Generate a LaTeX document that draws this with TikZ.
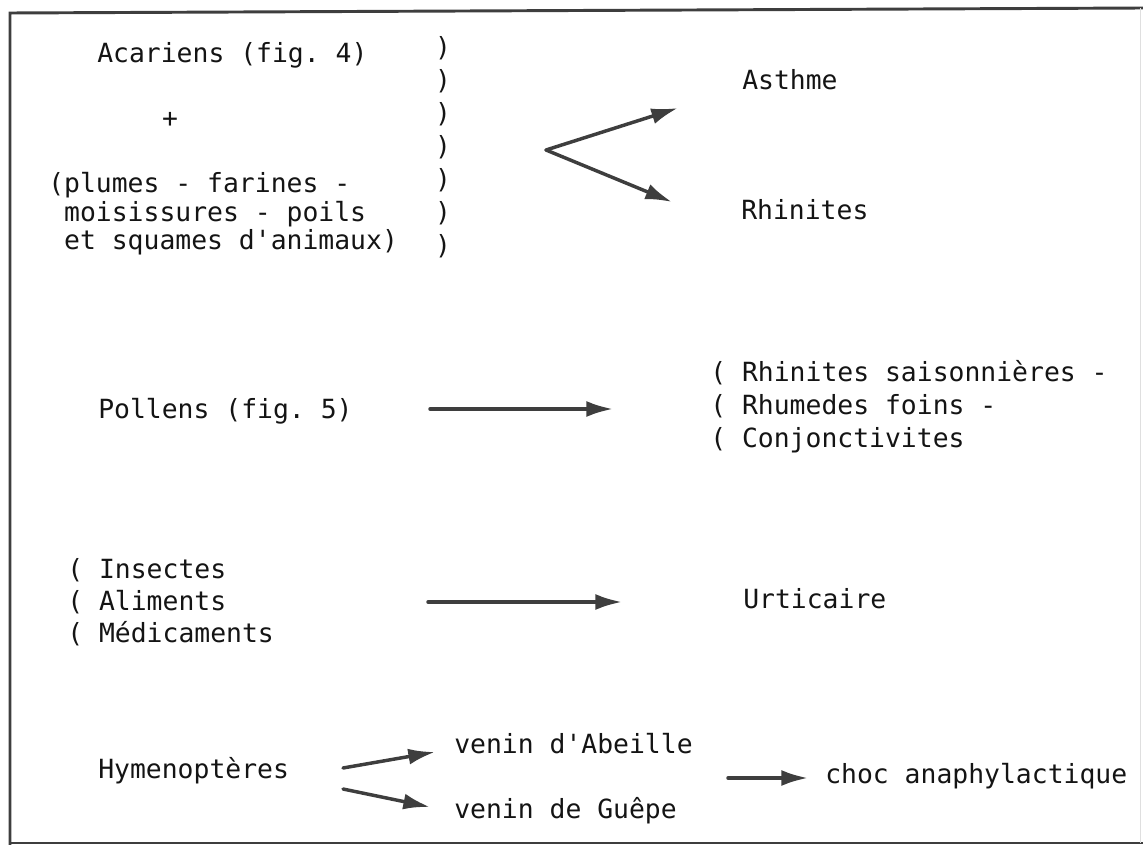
\documentclass[tikz,border=0pt]{standalone}
\usepackage{fontspec}
\setmonofont{DejaVu Sans Mono}
\usetikzlibrary{arrows.meta}
\definecolor{encre}{RGB}{20,20,20}
\definecolor{trait}{RGB}{62,62,62}

\begin{document}
\begin{tikzpicture}[x=0.75pt,y=-0.75pt,
    texte/.style={inner sep=0pt,anchor=base west,align=left,text=encre,
      font=\ttfamily\fontsize{19.8}{21.4}\selectfont},
    fleche/.style={draw=trait,line width=2.6pt,line cap=round,-{Latex[length=20pt,width=12pt]}},
    cadre/.style={draw=trait,line width=2.2pt}]
  \useasboundingbox (0,0) rectangle (1143,845);
  % cadre
  \draw[cadre] (10,845) -- (10,13) -- (1143,8);
  \draw[cadre,line width=1.6pt] (10,843) -- (1143,843);
  \draw[gray!25,thin] (1140,8) -- (1140,843);

  \node[texte] (acariens) at (97,63) {Acariens (fig. 4)};
  \node[texte,anchor=center] (plus) at (170,120) {+};
  \node[texte] (autres) at (48,250) {(plumes - farines -\\\ moisissures - poils\\\ et squames d'animaux)};
  \foreach \i in {0,...,6}
    \node[texte,anchor=center] (par\i) at (443,48+33*\i) {)};
  \node[texte] (asthme) at (742,90) {Asthme};
  \node[texte] (rhinites) at (741,220) {Rhinites};

  \node[texte] (pollens) at (98,418) {Pollens (fig. 5)};
  \node[texte,font=\ttfamily\fontsize{19.8}{24.4}\selectfont] (saison) at (710,447)
    {( Rhinites saisonnières -\\( Rhumedes foins -\\( Conjonctivites};

  \node[texte,font=\ttfamily\fontsize{19.8}{24}\selectfont] (insectes) at (67,642)
    {( Insectes\\( Aliments\\( Médicaments};
  \node[texte] (urticaire) at (743,608) {Urticaire};

  \node[texte] (hymeno) at (98,778) {Hymenoptères};
  \node[texte] (abeille) at (454,753) {venin d'Abeille};
  \node[texte] (guepe) at (454,818) {venin de Guêpe};
  \node[texte] (choc) at (825,783) {choc anaphylactique};

  % fleches
  \coordinate (fourche) at (546,150);
  \coordinate (versasthme) at (678,108);
  \coordinate (versrhin) at (672,202);
  \draw[fleche] (fourche) -- (versasthme);
  \draw[fleche] (fourche) -- (versrhin);
  \coordinate (p0) at (430,409);
  \coordinate (p1) at (613,409);
  \draw[fleche] (p0) -- (p1);
  \coordinate (u0) at (428,602);
  \coordinate (u1) at (622,602);
  \draw[fleche] (u0) -- (u1);
  \coordinate (h0) at (343,768);
  \coordinate (h1) at (343,789);
  \coordinate (versabeille) at (435,752);
  \coordinate (versguepe) at (430,807);
  \draw[fleche] (h0) -- (versabeille);
  \draw[fleche] (h1) -- (versguepe);
  \coordinate (c0) at (728,778);
  \coordinate (c1) at (808,778);
  \draw[fleche] (c0) -- (c1);
\end{tikzpicture}
\end{document}
